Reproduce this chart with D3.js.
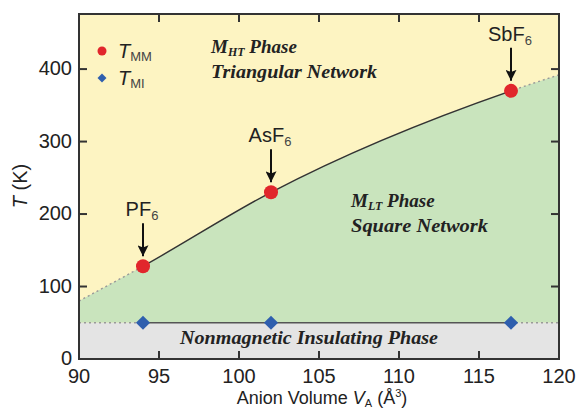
<!DOCTYPE html>
<html>
<head>
<meta charset="utf-8">
<script src="https://d3js.org/d3.v7.min.js"></script>
<style>
  body { margin: 0; background: #fff; }
  .tick-label { font: 20px "Liberation Sans", Arial, sans-serif; fill: #222; }
  .phase { font: bold italic 19px "Liberation Serif", "DejaVu Serif", serif; fill: #222; }
</style>
</head>
<body>
<svg id="chart" width="578" height="409"></svg>
<script>
// data
const salts = ["PF6", "AsF6", "SbF6"];
const volumes = [94, 102, 117];
const tMM = [128, 230, 370];
const tMI = [50, 50, 50];
// phase boundary (solid between measured points, dotted extrapolation)
const boundaryV = [90, 94, 102, 117, 120];
const boundaryT = [80, 128, 230, 370, 392];
const xTicks = [90, 95, 100, 105, 110, 115, 120];
const yTicks = [0, 100, 200, 300, 400];

const svg = d3.select("#chart");
const L = 79, R = 559, T = 14, B = 359;
const x = d3.scaleLinear().domain([90, 120]).range([L, R]);
const y = d3.scaleLinear().domain([0, 476]).range([B, T]);

const boundary = boundaryV.map((v, i) => ({v: v, t: boundaryT[i]}));

const defs = svg.append("defs");
defs.append("clipPath").attr("id", "plot")
  .append("rect").attr("x", L).attr("y", T).attr("width", R - L).attr("height", B - T);
defs.append("clipPath").attr("id", "mid")
  .append("rect").attr("x", x(94)).attr("y", T).attr("width", x(117) - x(94)).attr("height", B - T);
const outer = defs.append("clipPath").attr("id", "outer");
outer.append("rect").attr("x", L).attr("y", T).attr("width", x(94) - L).attr("height", B - T);
outer.append("rect").attr("x", x(117)).attr("y", T).attr("width", R - x(117)).attr("height", B - T);
defs.append("marker").attr("id", "arrow")
  .attr("viewBox", "0 -5 10 10").attr("refX", 10).attr("refY", 0)
  .attr("markerWidth", 5.5).attr("markerHeight", 5.5).attr("orient", "auto")
  .attr("markerUnits", "strokeWidth")
  .append("path").attr("d", "M0,-5L10,0L0,5L2,0Z").attr("fill", "#111");

const g = svg.append("g").attr("clip-path", "url(#plot)");

// backgrounds
g.append("rect").attr("x", L).attr("y", T).attr("width", R - L).attr("height", B - T)
  .attr("fill", "#fdf4c2");
g.append("path").datum(boundary)
  .attr("fill", "#c9e4bd")
  .attr("d", d3.area().curve(d3.curveMonotoneX)
    .x(d => x(d.v)).y0(y(50)).y1(d => y(d.t)));
g.append("rect").attr("x", L).attr("y", y(50)).attr("width", R - L).attr("height", B - y(50))
  .attr("fill", "#e4e4e4");

// boundary curve
const line = d3.line().curve(d3.curveMonotoneX).x(d => x(d.v)).y(d => y(d.t));
g.append("path").datum(boundary).attr("clip-path", "url(#mid)")
  .attr("fill", "none").attr("stroke", "#333").attr("stroke-width", 1.4).attr("d", line);
g.append("path").datum(boundary).attr("clip-path", "url(#outer)")
  .attr("fill", "none").attr("stroke", "#999").attr("stroke-width", 1.4)
  .attr("stroke-dasharray", "2,3").attr("d", line);

// T_MI line
g.append("line").attr("x1", x(volumes[0])).attr("x2", x(volumes[2]))
  .attr("y1", y(tMI[0])).attr("y2", y(tMI[0])).attr("stroke", "#555").attr("stroke-width", 1.4);
[[90, volumes[0]], [volumes[2], 120]].forEach(s => {
  g.append("line").attr("x1", x(s[0])).attr("x2", x(s[1]))
    .attr("y1", y(tMI[0])).attr("y2", y(tMI[0])).attr("stroke", "#999").attr("stroke-width", 1.4)
    .attr("stroke-dasharray", "2,3");
});

// phase labels
function phaseLabel(px, py, main, sub, rest, len) {
  const t = svg.append("text").attr("class", "phase").attr("x", px).attr("y", py);
  t.append("tspan").text(main);
  if (sub) t.append("tspan").attr("font-size", 12).attr("dy", 3).text(sub);
  if (rest) t.append("tspan").attr("dy", sub ? -3 : 0).text(rest);
  if (len) t.attr("textLength", len).attr("lengthAdjust", "spacingAndGlyphs");
}
phaseLabel(211, 53, "M", "HT", " Phase");
phaseLabel(211, 78, "Triangular Network", null, null, 166);
phaseLabel(351, 207, "M", "LT", " Phase");
phaseLabel(351, 232, "Square Network", null, null, 137);
svg.append("text").attr("class", "phase").attr("x", 180).attr("y", 344)
  .attr("textLength", 258).attr("lengthAdjust", "spacingAndGlyphs")
  .text("Nonmagnetic Insulating Phase");

// points
const diamond = d3.symbol(d3.symbolSquare, 100)();
svg.selectAll(".mi").data(volumes).enter().append("path")
  .attr("transform", (d, i) => `translate(${x(d)},${y(tMI[i])}) rotate(45)`)
  .attr("d", diamond).attr("fill", "#2f5fae");
svg.selectAll(".mm").data(volumes).enter().append("circle")
  .attr("cx", d => x(d)).attr("cy", (d, i) => y(tMM[i])).attr("r", 7).attr("fill", "#e1262c");

// salt labels with arrows
volumes.forEach((v, i) => {
  const px = x(v), py = y(tMM[i]);
  svg.append("line").attr("x1", px).attr("x2", px).attr("y1", py - 43).attr("y2", py - 10)
    .attr("stroke", "#111").attr("stroke-width", 2).attr("marker-end", "url(#arrow)");
  const t = svg.append("text").attr("class", "tick-label").attr("x", px - 1).attr("y", py - 50)
    .attr("text-anchor", "middle");
  t.append("tspan").text(salts[i].slice(0, -1));
  t.append("tspan").attr("font-size", 13).attr("dy", 4).attr("fill", "#444").text(salts[i].slice(-1));
});

// legend
svg.append("circle").attr("cx", 102).attr("cy", 51).attr("r", 4.5).attr("fill", "#e1262c");
svg.append("path").attr("transform", "translate(102,78) rotate(45)")
  .attr("d", d3.symbol(d3.symbolSquare, 40)()).attr("fill", "#2f5fae");
[["MM", 58], ["MI", 85]].forEach(d => {
  const t = svg.append("text").attr("class", "tick-label").attr("x", 118).attr("y", d[1]);
  t.append("tspan").attr("font-style", "italic").text("T");
  t.append("tspan").attr("font-size", 13).attr("dy", 3).attr("fill", "#444").text(d[0]);
});

// axes
const ax = svg.append("g").attr("stroke", "#333").attr("stroke-width", 2);
ax.append("rect").attr("x", L).attr("y", T).attr("width", R - L).attr("height", B - T).attr("fill", "none");
xTicks.slice(1, -1).forEach(v => {
  ax.append("line").attr("x1", x(v)).attr("x2", x(v)).attr("y1", B).attr("y2", B - 8);
  ax.append("line").attr("x1", x(v)).attr("x2", x(v)).attr("y1", T).attr("y2", T + 8);
});
yTicks.slice(1).forEach(t => {
  ax.append("line").attr("x1", L).attr("x2", L + 8).attr("y1", y(t)).attr("y2", y(t));
  ax.append("line").attr("x1", R).attr("x2", R - 8).attr("y1", y(t)).attr("y2", y(t));
});
svg.selectAll(".xl").data(xTicks).enter().append("text").attr("class", "tick-label")
  .attr("x", d => x(d)).attr("y", 383).attr("text-anchor", "middle").text(d => d);
svg.selectAll(".yl").data(yTicks).enter().append("text").attr("class", "tick-label")
  .attr("x", L - 7).attr("y", d => y(d) + 6).attr("text-anchor", "end").text(d => d);

// axis titles
const xt = svg.append("text").attr("class", "tick-label").attr("x", 322).attr("y", 404)
  .attr("text-anchor", "middle").style("font-size", "18px");
xt.append("tspan").text("Anion Volume ");
xt.append("tspan").attr("font-style", "italic").text("V");
xt.append("tspan").attr("font-size", 11).attr("dy", 3).text("A");
xt.append("tspan").attr("dy", -3).text(" (Å");
xt.append("tspan").attr("font-size", 11).attr("dy", -7).text("3");
xt.append("tspan").attr("dy", 7).text(")");
const yt = svg.append("text").attr("class", "tick-label")
  .attr("transform", "translate(27,186) rotate(-90)").attr("text-anchor", "middle");
yt.append("tspan").attr("font-style", "italic").text("T");
yt.append("tspan").text(" (K)");
</script>
</body>
</html>
